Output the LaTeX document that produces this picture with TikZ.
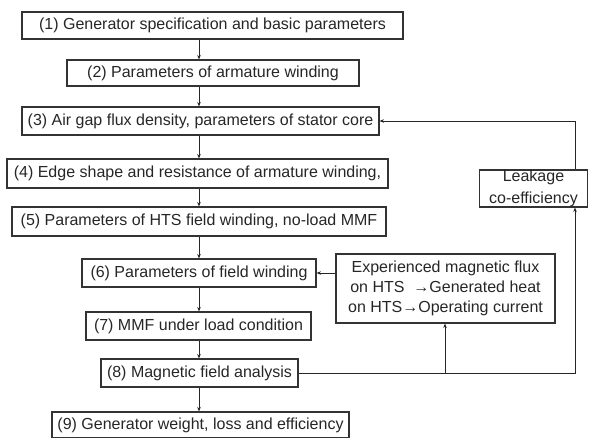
\documentclass[tikz,border=0pt]{standalone}
\usepackage{fontspec}
\setmainfont{Liberation Sans}
\usetikzlibrary{arrows.meta}
\begin{document}
\begin{tikzpicture}[x=1pt,y=-1pt,
  box/.style={draw=black!80, line width=1.1pt, inner sep=0pt, align=center,
    font=\fontsize{16}{20}\selectfont, text=black!85},
  arr/.style={draw=black!85, line width=0.8pt, -{Stealth[length=4.5pt,width=3.5pt]}},
  ln/.style={draw=black!85, line width=0.8pt}]
\useasboundingbox (0,0) rectangle (589,437);
\node[box, minimum width=381, minimum height=27] (n1) at (212.5,25.5) {(1) Generator specification and basic parameters};
\node[box, minimum width=292, minimum height=26] (n2) at (213,73) {(2) Parameters of armature winding};
\node[box, minimum width=357, minimum height=28] (n3) at (200.5,121) {(3) Air gap flux density, parameters of stator core};
\node[box, minimum width=381, minimum height=29] (n4) at (197.5,173.5) {(4) Edge shape and resistance of armature winding,};
\node[box, minimum width=374, minimum height=29] (n5) at (199,221.5) {(5) Parameters of HTS field winding, no-load MMF};
\node[box, minimum width=234, minimum height=28] (n6) at (199,273) {(6) Parameters of field winding};
\node[box, minimum width=225, minimum height=28] (n7) at (198.5,326) {(7) MMF under load condition};
\node[box, minimum width=197, minimum height=28] (n8) at (199.5,373) {(8) Magnetic field analysis};
\node[box, minimum width=297, minimum height=26] (n9) at (200.5,425) {(9) Generator weight, loss and efficiency};
\node[box, minimum width=108, minimum height=37] (leak) at (533.5,188.5) {\raisebox{2pt}{Leakage}\\co-efficiency};
\node[box, minimum width=219, minimum height=69] (exp) at (445.5,288.5) {Experienced magnetic flux\\on HTS \ →Generated heat\\on HTS→Operating current};
\coordinate (ax) at (199,0);
\coordinate (rx) at (575,0);
\coordinate (ex) at (445,0);
\draw[arr] (n1.south -| ax) -- (n2.north -| ax);
\draw[arr] (n2.south -| ax) -- (n3.north -| ax);
\draw[arr] (n3.south -| ax) -- (n4.north -| ax);
\draw[arr] (n4.south -| ax) -- (n5.north -| ax);
\draw[arr] (n5.south -| ax) -- (n6.north -| ax);
\draw[arr] (n6.south -| ax) -- (n7.north -| ax);
\draw[arr] (n7.south -| ax) -- (n8.north -| ax);
\draw[arr] (n8.south -| ax) -- (n9.north -| ax);
\draw[arr] (leak.north -| rx) |- (n3.east);
\draw[arr] (n8.east) -| (leak.south -| rx);
\draw[arr] (n8.east -| ex) -- (exp.south -| ex);
\draw[arr] (exp.west |- n6.east) -- (n6.east);
\end{tikzpicture}
\end{document}
